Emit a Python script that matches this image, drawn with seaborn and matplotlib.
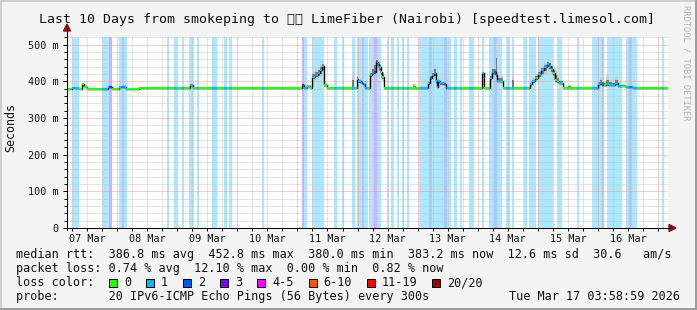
import numpy as np
import matplotlib
matplotlib.use("Agg")
import matplotlib.pyplot as plt
import seaborn as sns
from matplotlib.patches import Rectangle, Polygon
from matplotlib.lines import Line2D
from matplotlib.collections import LineCollection

# ---------------- data (hours since 07 Mar 00:00, values in ms) ----------------
med_hours = [3.98, 5.98, 8.77, 9.97, 10.77, 11.97, 20.35, 21.95, 24.75, 27.54,
             32.74, 53.10, 54.30, 97.84, 98.64, 99.84, 101.03, 101.83, 103.03, 104.23,
             105.03, 105.83, 106.43, 107.83, 117.80, 118.60, 119.60, 120.20, 121.40, 122.20,
             122.99, 124.99, 125.79, 126.59, 127.19, 128.19, 128.59, 129.39, 129.78, 130.46,
             142.17, 143.37, 148.16, 148.96, 149.76, 150.56, 151.16, 151.76, 152.15, 152.95,
             154.55, 155.35, 169.53, 170.33, 172.93, 173.53, 175.33, 175.73, 178.12, 181.72,
             182.52, 188.91, 189.71, 190.91, 192.11, 193.31, 194.51, 195.51, 196.51, 197.31,
             198.10, 198.90, 199.70, 200.50, 202.10, 204.10, 205.30, 216.08, 216.88, 217.68,
             218.48, 219.28, 220.48, 221.68, 222.87, 224.07, 227.27, 230.07]
med_ms = [380, 383, 380, 392, 386, 380, 385, 380, 385, 380,
          383, 389, 383, 390, 383, 388, 383, 413, 418, 424,
          430, 442, 389, 383, 383, 383, 407, 400, 397, 393,
          383, 418, 423, 427, 453, 448, 439, 427, 413, 383,
          383, 383, 395, 409, 418, 423, 402, 385, 400, 395,
          392, 383, 423, 383, 409, 427, 418, 402, 383, 383,
          383, 393, 400, 409, 420, 430, 438, 448, 443, 434,
          423, 404, 400, 397, 383, 383, 383, 393, 395, 391,
          389, 392, 390, 391, 395, 388, 386, 383]
smoke_lo_ms = [380, 383, 380, 385, 383, 380, 382, 380, 382, 380,
               383, 385, 383, 386, 383, 385, 383, 400, 404, 408,
               412, 420, 385, 383, 383, 383, 395, 392, 390, 388,
               383, 404, 410, 414, 432, 428, 420, 410, 400, 383,
               383, 383, 388, 398, 404, 408, 392, 383, 392, 388,
               386, 383, 410, 383, 398, 410, 405, 394, 383, 383,
               383, 388, 392, 398, 405, 412, 420, 428, 425, 418,
               405, 395, 393, 390, 383, 383, 383, 386, 387, 385,
               384, 385, 385, 385, 387, 384, 383, 383]
smoke_hi_ms = [380, 383, 380, 397, 389, 380, 388, 380, 388, 380,
               383, 392, 383, 394, 383, 391, 383, 425, 433, 440,
               448, 455, 395, 383, 427, 383, 416, 410, 405, 400,
               383, 428, 442, 460, 465, 460, 452, 442, 426, 383,
               393, 383, 402, 418, 430, 445, 420, 390, 408, 402,
               396, 383, 430, 383, 418, 440, 510, 415, 383, 427,
               383, 400, 410, 420, 432, 442, 450, 458, 455, 448,
               440, 430, 420, 405, 383, 391, 383, 405, 410, 405,
               400, 418, 405, 400, 413, 392, 389, 383]

loss_start_h = [5.98, 17.96, 20.75, 24.75, 25.83, 26.75, 43.80, 46.72, 49.79, 52.71,
                55.78, 61.90, 66.57, 68.56, 81.74, 97.84, 98.64, 101.70, 110.60, 113.80,
                117.80, 119.80, 121.80, 122.70, 124.60, 126.60, 127.80, 131.80, 133.40, 135.80,
                137.80, 139.80, 144.40, 148.70, 149.80, 154.60, 155.80, 158.60, 160.80, 164.50,
                169.70, 172.50, 174.50, 175.70, 179.30, 181.70, 186.50, 188.50, 192.10, 199.70,
                207.70, 213.70, 217.70, 219.70, 227.30, 228.50, 229.70, 241.60]
loss_end_h = [8.77, 20.63, 22.07, 25.83, 26.75, 27.82, 44.72, 47.80, 50.71, 54.70,
              56.70, 63.90, 67.90, 69.88, 82.66, 98.64, 99.84, 106.60, 111.80, 114.60,
              118.80, 121.80, 122.70, 124.00, 126.60, 127.80, 129.40, 132.60, 134.60, 136.60,
              138.60, 140.60, 148.70, 149.80, 154.60, 155.80, 157.20, 159.80, 161.80, 166.50,
              170.50, 174.50, 175.70, 177.70, 180.90, 182.50, 187.70, 191.30, 198.10, 201.70,
              208.50, 217.70, 218.50, 225.70, 228.50, 229.70, 231.70, 242.50]
loss_level = [1, 1, 3, 1, 2, 1, 1, 1, 1, 1, 1, 1, 1, 1, 1,
              3, 1, 1, 1, 1, 1, 1, 2, 1, 1, 3, 1,
              1, 1, 1, 1, 1, 1,
              2, 1, 2, 1,
              1, 1, 1, 1, 1,
              2, 1,
              1, 1, 1, 1, 1, 1, 1, 1,
              2, 1, 1, 2, 1, 1]

loss_labels = ["0", "1", "2", "3", "4-5", "6-10", "11-19", "20/20"]
loss_colors = ["#26ff00", "#00b8ff", "#0059ff", "#7e00ff", "#ff00ff", "#ff5500", "#ff0000", "#a10000"]
day_labels = ["07 Mar", "08 Mar", "09 Mar", "10 Mar", "11 Mar", "12 Mar", "13 Mar", "14 Mar", "15 Mar", "16 Mar"]
y_tick_values = [0, 100, 200, 300, 400, 500]
y_tick_labels = ["0", "100 m", "200 m", "300 m", "400 m", "500 m"]

title = "Last 10 Days from smokeping to \U0001F1F0\U0001F1EA LimeFiber (Nairobi) [speedtest.limesol.com]"
stat_line1 = "median rtt:  386.8 ms avg  452.8 ms max  380.0 ms min  383.2 ms now  12.6 ms sd  30.6   am/s"
stat_line2 = "packet loss: 0.74 % avg  12.10 % max  0.00 % min  0.82 % now"
probe_line = "probe:       20 IPv6-ICMP Echo Pings (56 Bytes) every 300s"
stamp = "Tue Mar 17 03:58:59 2026"

assert len(med_hours) == len(med_ms) == len(smoke_lo_ms) == len(smoke_hi_ms)
assert len(loss_start_h) == len(loss_end_h) == len(loss_level)

# ---------------- figure ----------------
sns.set_theme(style="white")
plt.rcParams["font.family"] = ["DejaVu Sans Mono"]
TITLE_FAMILIES = ["DejaVu Sans Mono", "DejaVu Sans", "Noto Sans", "Noto Sans CJK SC",
                  "Liberation Sans", "Roboto", "Open Sans", "Lato", "Inter"]

W, H = 697, 310
T0, T1 = 3.98, 243.98
BG = "#f3f3f3"
fig = plt.figure(figsize=(W / 100, H / 100), dpi=100, facecolor=BG)


def fx(x):
    return x / W


def fy(y):
    return 1 - y / H


ax = fig.add_axes([fx(67), fy(228), (668 - 67) / W, (228 - 36.7) / H])
ax.set_facecolor("white")
ax.set_xlim(T0, T1)
ax.set_ylim(0, 522)
for s in ax.spines.values():
    s.set_visible(False)

# loss background bars
for s, e, l in zip(loss_start_h, loss_end_h, loss_level):
    ax.axvspan(s, e, color=loss_colors[l], alpha=0.33, lw=0, zorder=0)

# grid
dot = (0, (1, 1))
GRAY, RED = "#c8c8c8", "#f09a9a"
for v in np.arange(20, 521, 20):
    ax.axhline(v, color=RED if v % 100 == 0 else GRAY, lw=0.72, ls=dot, zorder=1)
minor_h = [h for h in np.arange(6, T1, 6) if h > T0]
for h in minor_h:
    ax.axvline(h, color=RED if h % 24 == 0 else GRAY, lw=0.72, ls=dot, zorder=1)

# smoke
hx = np.array(med_hours + [T1])
mv = np.array(med_ms + [med_ms[-1]], dtype=float)
lo = np.array(smoke_lo_ms + [smoke_lo_ms[-1]], dtype=float)
hi = np.array(smoke_hi_ms + [smoke_hi_ms[-1]], dtype=float)
ax.fill_between(hx, lo, hi, step="post", color="#cdcdcd", lw=0, zorder=2)
ax.fill_between(hx, (lo + mv) / 2, (hi + mv) / 2, step="post", color="#7a7a7a", lw=0, zorder=2)

# median: black step line (transitions) + loss-coloured horizontal pieces
sns.lineplot(x=hx, y=mv, drawstyle="steps-post", color="black", lw=1.0,
             estimator=None, sort=False, ax=ax, zorder=3)


def level_at(t):
    for s, e, l in zip(loss_start_h, loss_end_h, loss_level):
        if s <= t < e:
            return l
    return 0


edges = sorted(set(med_hours) | set(loss_start_h) | set(loss_end_h) | {T1})
edges = [e for e in edges if T0 <= e <= T1]
segs, cols = [], []
for a, b in zip(edges[:-1], edges[1:]):
    i = np.searchsorted(med_hours, a, side="right") - 1
    v = med_ms[i]
    segs.append([(a, v), (b, v)])
    cols.append(loss_colors[level_at(a)])
ax.add_collection(LineCollection(segs, colors=cols, linewidths=1.6, zorder=4, capstyle="butt"))

# ticks
ax.set_xticks([12 + 24 * k for k in range(len(day_labels))], day_labels)
ax.set_xticks(minor_h, minor=True)
ax.xaxis.remove_overlapping_locs = False
ax.tick_params(axis="x", which="major", length=0, pad=4, labelsize=7.3, labelcolor="#111111")
ax.tick_params(axis="x", which="minor", length=2, width=0.72, color="black", direction="out", bottom=True)
ax.set_yticks(y_tick_values, y_tick_labels)
ax.set_yticks(np.arange(20, 521, 20), minor=True)
ax.tick_params(axis="y", which="major", length=3, width=0.72, color="black", pad=3, labelsize=7.3,
               labelcolor="#111111", left=True)
ax.tick_params(axis="y", which="minor", length=2, width=0.72, color="black", left=True)

# axis lines with arrows
fig.add_artist(Line2D([fx(67), fx(67)], [fy(230), fy(29)], color="black", lw=0.72))
fig.add_artist(Line2D([fx(65), fx(670)], [fy(228), fy(228)], color="black", lw=0.72))
ARROW = "#8a1010"
fig.add_artist(Polygon([[fx(63.5), fy(31)], [fx(70.5), fy(31)], [fx(67), fy(24)]], closed=True,
                       color=ARROW, transform=fig.transFigure))
fig.add_artist(Polygon([[fx(669), fy(224.5)], [fx(669), fy(231.5)], [fx(676), fy(228)]], closed=True,
                       color=ARROW, transform=fig.transFigure))

# texts
fig.text(fx(347), fy(19), title, ha="center", va="center", fontsize=9.5, color="#111111",
         family=TITLE_FAMILIES)
fig.text(fx(11), fy(127.5), "Seconds", rotation=90, ha="center", va="center", fontsize=8.4, color="#111111")
fig.text(fx(686), fy(5), "RRDTOOL / TOBI OETIKER", rotation=270, ha="center", va="top",
         fontsize=6.3, color="#b4b4b4")

LX = 16.4
fig.text(fx(LX), fy(254.5), stat_line1, ha="left", va="center", fontsize=8.5, color="#111111")
fig.text(fx(LX), fy(268.5), stat_line2, ha="left", va="center", fontsize=8.5, color="#111111")
fig.text(fx(LX), fy(282.5), "loss color:", ha="left", va="center", fontsize=8.5, color="#111111")
fig.text(fx(LX), fy(296.5), probe_line, ha="left", va="center", fontsize=8.5, color="#111111")
fig.text(fx(680), fy(296.5), stamp, ha="right", va="center", fontsize=8.5, color="#111111")

CW = 7.08
bx = 109.0
for lab, col in zip(loss_labels, loss_colors):
    fig.add_artist(Rectangle((fx(bx), fy(286.5)), 8 / W, 8 / H, facecolor=col, edgecolor="black",
                             lw=0.72, transform=fig.transFigure))
    tx = bx + 15
    fig.text(fx(tx), fy(282.5), lab, ha="left", va="center", fontsize=8.5, color="#111111")
    bx = tx + len(lab) * CW + 15

# frame
fig.add_artist(Line2D([0, 1], [fy(0.7), fy(0.7)], color="#cfcfcf", lw=1.44))
fig.add_artist(Line2D([fx(0.7), fx(0.7)], [0, 1], color="#cfcfcf", lw=1.44))
fig.add_artist(Line2D([0, 1], [fy(309.3), fy(309.3)], color="#9e9e9e", lw=1.44))
fig.add_artist(Line2D([fx(696.3), fx(696.3)], [0, 1], color="#9e9e9e", lw=1.44))

fig.savefig("out.png", dpi=100, facecolor=BG)
